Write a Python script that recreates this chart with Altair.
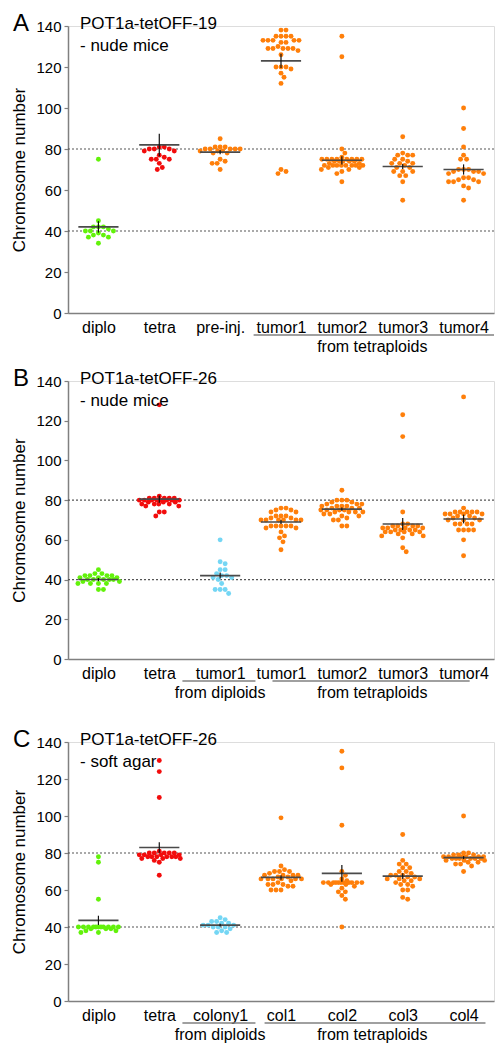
import altair as alt
import pandas as pd

GREEN = "#62F20A"
RED = "#F20C0C"
ORANGE = "#FF7F0A"
BLUE = "#74D6F4"

# ---------------- Panel A ----------------
A_cats = ["diplo", "tetra", "pre-inj.", "tumor1", "tumor2", "tumor3", "tumor4"]
A_colors = [GREEN, RED, ORANGE, ORANGE, ORANGE, ORANGE, ORANGE]
A_diplo = [75, 45, 42, 42, 42, 41, 40, 40, 40, 39, 38, 38, 37, 37, 34]
A_tetra = [81, 81, 80, 80, 80, 79, 79, 77, 76, 75, 75, 75, 73, 71, 70]
A_preinj = [85, 81, 81, 81, 80, 80, 80, 80, 80, 79, 79, 79, 78, 78, 75, 74, 73, 73, 70]
A_tumor1 = [138, 138, 135, 135, 135, 135, 133, 133, 133, 133, 133, 132, 132, 130, 129, 129, 129, 129,
            129, 128, 126, 120, 120, 120, 119, 117, 115, 112, 70, 69, 68]
A_tumor2 = [135, 125, 80, 78, 76, 75, 75, 75, 75, 75, 75, 75, 75, 74, 74, 74, 74, 74, 73, 73, 72, 72,
            72, 72, 72, 72, 72, 72, 71, 71, 70, 70, 69, 68, 64]
A_tumor3 = [86, 78, 77, 77, 77, 75, 75, 74, 73, 73, 73, 72, 71, 71, 69, 69, 69, 67, 67, 64, 55]
A_tumor4 = [100, 90, 81, 77, 75, 75, 70, 70, 70, 69, 69, 69, 68, 68, 66, 66, 65, 65, 64, 64, 64, 62, 61, 55]
A_mean = [42, 82, 78.5, 123, 74.5, 71.5, 70]
A_err = [2.8, 5.5, 1.0, 3.5, 2.0, 1.2, 2.5]

# ---------------- Panel B ----------------
B_cats = ["diplo", "tetra", "tumor1", "tumor1", "tumor2", "tumor3", "tumor4"]
B_colors = [GREEN, RED, BLUE, ORANGE, ORANGE, ORANGE, ORANGE]
B_diplo = [45, 43, 43, 42, 42, 42, 42, 41, 41, 41, 40, 40, 40, 40, 40, 39, 39, 38, 38, 38, 38, 35, 35]
B_tetra = [128, 82, 81, 81, 81, 81, 81, 80, 80, 80, 80, 80, 80, 80, 80, 79, 79, 79, 78, 78, 78, 78,
           77, 77, 74, 74, 72]
B_dtumor1 = [60, 49, 48, 45, 45, 43, 42, 42, 41, 41, 40, 38, 35, 35, 35, 33]
B_tumor1 = [76, 76, 75, 75, 74, 74, 72, 72, 72, 71, 71, 70, 70, 70, 70, 70, 70, 67, 67, 67, 67, 67,
            66, 66, 64, 62, 61, 59, 55]
B_tumor2 = [85, 80, 80, 80, 79, 79, 78, 78, 78, 77, 77, 77, 77, 76, 76, 76, 75, 75, 75, 75, 74, 74,
            74, 74, 73, 73, 72, 72, 71, 70, 70, 67, 67]
B_tumor3 = [123, 112, 74, 68, 68, 67, 67, 67, 67, 66, 66, 66, 66, 65, 65, 65, 65, 64, 64, 64, 64, 63,
            63, 62, 62, 61, 56, 54]
B_tumor4 = [132, 76, 74, 74, 74, 74, 74, 73, 73, 73, 73, 72, 72, 71, 71, 70, 70, 70, 68, 68, 68, 68,
            65, 65, 65, 65, 60, 52]
B_mean = [40, 80.5, 42, 69, 75.5, 68, 70.5]
B_err = [0.8, 1.8, 1.5, 1.0, 0.8, 3.0, 2.2]

# ---------------- Panel C ----------------
C_cats = ["diplo", "tetra", "colony1", "col1", "col2", "col3", "col4"]
C_colors = [GREEN, RED, BLUE, ORANGE, ORANGE, ORANGE, ORANGE]
C_diplo = [78, 75, 55, 40, 40, 40, 40, 40, 40, 40, 40, 40, 40, 40, 39, 39, 39, 38, 38, 37, 37]
C_tetra = [130, 124, 110, 81, 80, 80, 80, 80, 80, 79, 79, 79, 79, 78, 78, 78, 78, 78, 78, 77, 77, 77,
           76, 75, 68]
C_colony1 = [45, 44, 43, 43, 42, 42, 41, 41, 41, 40, 40, 40, 39, 38, 37, 37]
C_col1 = [99, 73, 71, 70, 70, 70, 69, 68, 68, 68, 68, 67, 67, 66, 66, 66, 66, 66, 66, 65, 64, 63, 63,
          63, 62, 62, 60, 60, 60]
C_col2 = [135, 126, 95, 70, 68, 66, 65, 64, 64, 64, 64, 64, 64, 64, 64, 64, 64, 64, 63, 63, 62, 61,
          59, 59, 57, 55, 40]
C_col3 = [90, 76, 74, 74, 72, 72, 70, 70, 69, 68, 68, 68, 67, 67, 66, 66, 66, 65, 65, 64, 63, 63, 62,
          60, 60, 56, 55]
C_col4 = [100, 80, 80, 79, 79, 79, 78, 78, 78, 78, 78, 78, 77, 77, 77, 77, 77, 77, 76, 76, 76, 75, 75,
          74, 74, 73, 70]
C_mean = [43.6, 83, 41, 66.8, 69, 67.5, 77.5]
C_err = [2.5, 2.8, 0.7, 1.2, 4.5, 1.5, 0.8]

REF_LINES = [40, 80]
Y_TICKS = [0, 20, 40, 60, 80, 100, 120, 140]

FONT = "Liberation Sans"
WIDTH = 426
AXIS_GRAY = "#808080"


def swarm_offsets(values, px_x, px_y, d=5.0, max_px=21.0):
    """Compact beeswarm layout: horizontal offset (in x units) for each value."""
    n = len(values)
    order = sorted(range(n), key=lambda i: -values[i])
    placed = []
    offs = [0.0] * n
    cands = [0.0]
    k = 1
    while k * 0.5 <= max_px:
        cands += [k * 0.5, -k * 0.5]
        k += 1
    for i in order:
        y = values[i] * px_y
        best, best_d = 0.0, -1.0
        for c in cands:
            md = min([((c - px) ** 2 + (y - py) ** 2) ** 0.5 for px, py in placed] or [1e9])
            if md >= d:
                best = c
                break
            if md > best_d:
                best, best_d = c, md
        placed.append((best, y))
        offs[i] = best / px_x
    return offs


def panel(cats, colors, groups, means, errs, height, letter, title_lines, underlines, glabels):
    px_x = WIDTH / 7.0
    px_y = height / 140.0
    rows = []
    for ci, (vals, col) in enumerate(zip(groups, colors)):
        offs = swarm_offsets(vals, px_x, px_y)
        for v, o in zip(vals, offs):
            rows.append({"x": ci + o, "value": v, "color": col})
    df = pd.DataFrame(rows)

    xscale = alt.Scale(domain=[-0.5, 6.5], nice=False, zero=False)
    yscale = alt.Scale(domain=[0, 140], nice=False, zero=True)
    label_expr = "[" + ",".join("'%s'" % c for c in cats) + "][round(datum.value)]"
    xaxis = alt.Axis(values=list(range(7)), labelExpr=label_expr, ticks=False, grid=False,
                     domainColor=AXIS_GRAY, domainWidth=1.5, labelFontSize=16, labelPadding=6,
                     labelColor="black", labelFont=FONT, title=None)
    yaxis = alt.Axis(values=Y_TICKS, grid=False, domainColor=AXIS_GRAY, domainWidth=1.5,
                     tickColor=AXIS_GRAY, tickSize=4, tickWidth=1.2, labelFontSize=15, labelPadding=3,
                     labelColor="black", labelFont=FONT, title="Chromosome number",
                     titleFontSize=17, titleFontWeight="normal", titleFont=FONT, titleColor="black",
                     titlePadding=7)

    def X(f):
        return alt.X(f, type="quantitative", scale=xscale, axis=xaxis)

    def Y(f):
        return alt.Y(f, type="quantitative", scale=yscale, axis=yaxis)

    ref = alt.Chart(pd.DataFrame({"value": REF_LINES})).mark_rule(
        color="#555555", strokeDash=[2, 2], strokeWidth=1.2).encode(y=Y("value"))

    pts = alt.Chart(df).mark_circle(size=24, opacity=1).encode(
        x=X("x"), y=Y("value"), color=alt.Color("color:N", scale=None))

    mdf = pd.DataFrame({"c": list(range(7)), "mean": means, "err": errs})
    mdf["x1"] = mdf["c"] - 0.33
    mdf["x2"] = mdf["c"] + 0.33
    mdf["lo"] = mdf["mean"] - mdf["err"]
    mdf["hi"] = mdf["mean"] + mdf["err"]

    mline = alt.Chart(mdf).mark_rule(color="#4a4a4a", strokeWidth=1.6).encode(
        x=X("x1"), x2="x2:Q", y=Y("mean"))
    ebar = alt.Chart(mdf).mark_rule(color="#111111", strokeWidth=1.2).encode(
        x=X("c"), y=Y("lo"), y2="hi:Q")

    let = alt.Chart(pd.DataFrame({"t": [letter]})).mark_text(
        align="left", baseline="middle", fontSize=24, font=FONT, color="black").encode(
        x=alt.value(-55), y=alt.value(-2), text="t:N")
    ttl1 = alt.Chart(pd.DataFrame({"t": [title_lines[0]]})).mark_text(
        align="left", baseline="middle", fontSize=17, font=FONT, color="black").encode(
        x=alt.value(12), y=alt.value(-2), text="t:N")
    ttl2 = alt.Chart(pd.DataFrame({"t": [title_lines[1]]})).mark_text(
        align="left", baseline="middle", fontSize=17, font=FONT, color="black").encode(
        x=alt.value(12), y=alt.value(20), text="t:N")

    udf = pd.DataFrame({"x1": [u[0] for u in underlines], "x2": [u[1] for u in underlines]})
    uline = alt.Chart(udf).mark_rule(color=AXIS_GRAY, strokeWidth=1.5).encode(
        x=X("x1"), x2="x2:Q", y=alt.value(height + 22))
    gdf = pd.DataFrame({"label": [g[0] for g in glabels], "xc": [g[1] for g in glabels]})
    gtxt = alt.Chart(gdf).mark_text(fontSize=16, font=FONT, color="black", baseline="middle").encode(
        x=X("xc"), y=alt.value(height + 34), text="label:N")

    return alt.layer(ref, pts, mline, ebar, let, ttl1, ttl2, uline, gtxt).properties(
        width=WIDTH, height=height)


pA = panel(A_cats, A_colors, [A_diplo, A_tetra, A_preinj, A_tumor1, A_tumor2, A_tumor3, A_tumor4],
           A_mean, A_err, 287, "A", ["POT1a-tetOFF-19", "- nude mice"],
           [(2.55, 6.5)], [("from tetraploids", 4.5)])
pB = panel(B_cats, B_colors, [B_diplo, B_tetra, B_dtumor1, B_tumor1, B_tumor2, B_tumor3, B_tumor4],
           B_mean, B_err, 278, "B", ["POT1a-tetOFF-26", "- nude mice"],
           [(1.38, 2.58), (2.86, 6.1)], [("from diploids", 2.0), ("from tetraploids", 4.5)])
pC = panel(C_cats, C_colors, [C_diplo, C_tetra, C_colony1, C_col1, C_col2, C_col3, C_col4],
           C_mean, C_err, 259, "C", ["POT1a-tetOFF-26", "- soft agar"],
           [(1.38, 2.58), (2.73, 6.36)], [("from diploids", 2.0), ("from tetraploids", 4.5)])

chart = alt.vconcat(alt.vconcat(pA, pB, spacing=10), pC, spacing=25).properties(
    padding={"top": 3, "left": 2, "right": 0, "bottom": 0}
).configure_view(stroke=None).configure(font=FONT)

chart.save("out.html", embed_options={"renderer": "svg", "actions": False})
